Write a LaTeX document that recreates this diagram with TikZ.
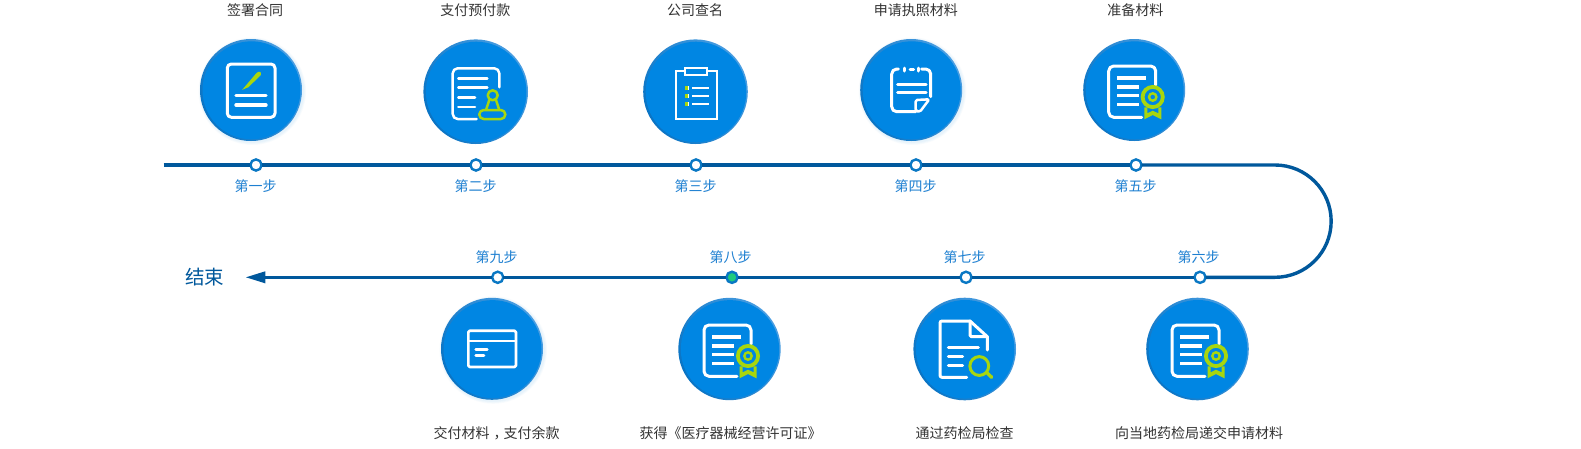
\documentclass[tikz,border=0pt]{standalone}
\usepackage{fontspec}
\setmainfont{Noto Sans CJK SC}
\usetikzlibrary{arrows.meta}
\definecolor{discblue}{HTML}{0086E3}
\definecolor{ringlight}{HTML}{4A9EE2}
\definecolor{ringdark}{HTML}{0A74C4}
\definecolor{linkblue}{HTML}{00589C}
\definecolor{dotblue}{HTML}{0A78C4}
\definecolor{stepblue}{HTML}{1D7FD1}
\definecolor{titlegrey}{HTML}{333333}
\definecolor{leaf}{HTML}{A8D60E}
\definecolor{dotgreen}{HTML}{1FCB7E}
\tikzset{
  x=1pt,y=-1pt,
  mainline/.style={draw=linkblue,line width=3.4pt},
  stepdot/.style={circle,draw=dotblue,line width=2.4pt,fill=white,minimum size=11.2pt,inner sep=0pt,outer sep=0pt},
  steplabel/.style={text=stepblue,font=\fontsize{14}{16}\selectfont,inner sep=0pt},
  titlelabel/.style={text=titlegrey,font=\fontsize{14}{16}\selectfont,inner sep=0pt},
  discnode/.style={circle,inner sep=0pt,outer sep=0pt,left color=ringlight,right color=ringdark,shading angle=-60},
  ico/.style={draw=white,line width=3pt,line cap=round,line join=round},
  icothin/.style={draw=white,line width=2.5pt,line cap=round,line join=round},
  icogreen/.style={draw=leaf,line width=2.5pt,line join=round},
}
% disc: name, x, y, radius
\newcommand{\stepdisc}[4]{%
  \node[discnode,minimum size=#4*2pt] (#1) at (#2,#3) {};
  \fill[discblue] (#1.center) ++(0.5,0.3) circle[radius=#4-2];
}
\newcommand{\softglow}[3]{%
  \foreach \g in {1,2,3,4}{\fill[discblue,opacity=0.025] (#1+1.2,#2+1.2) circle[radius=#3+\g*0.7];}
}
\newcommand{\iconsign}[1]{\begin{scope}[shift={(#1.center)}]
  \draw[ico,rounded corners=4pt] (-23.7,-26) rectangle (24,27.3);
  \fill[leaf] (-8.8,-0.2) -- (5.5,-17) .. controls (8,-19.4) and (11,-18.4) .. (9.8,-15) -- (-2.5,-2.8) -- cycle;
  \draw[ico,line width=3.4pt] (-15,5.7) -- (15,5.7);
  \draw[ico,line width=3.4pt] (-15,15) -- (15,15);
\end{scope}}
\newcommand{\iconstamp}[1]{\begin{scope}[shift={(#1.center)}]
  \draw[icothin,rounded corners=5pt] (23.6,-4.4) -- (23.6,-23.4) -- (-23,-23.4) -- (-23,27.3) -- (1,27.3);
  \draw[icothin] (-17.4,-13) -- (11.6,-13);
  \draw[icothin] (-17.4,-4) -- (11.6,-4);
  \draw[icothin] (-17.4,6) -- (-0.7,6);
  \draw[icothin] (-17.4,15.3) -- (-0.7,15.3);
  \draw[icogreen] (17,3.6) circle[radius=5];
  \draw[icogreen] (13.6,8.3) -- (10.3,18.3);
  \draw[icogreen] (20.3,8.3) -- (23.6,18.3);
  \draw[icogreen,rounded corners=4.4pt] (3.6,18.3) rectangle (29.6,27.3);
\end{scope}}
\newcommand{\iconboard}[1]{\begin{scope}[shift={(#1.center)}]
  \draw[white,line width=1.9pt] (-19.8,-20.7) rectangle (21.2,27.6);
  \draw[white,line width=1.9pt,fill=discblue] (-10.2,-23.4) rectangle (11.2,-16.7);
  \foreach \yy in {-3.4,4.3,12}{
    \draw[white,line width=2pt] (-3.2,\yy) -- (13.5,\yy);
    \fill[leaf] (-10.2,\yy-1.9) rectangle (-6.5,\yy+1.9);
    \fill[white] (-7.6,\yy-1.9) rectangle (-6.5,\yy+1.9);
  }
\end{scope}}
\newcommand{\iconnote}[1]{\begin{scope}[shift={(#1.center)}]
  \draw[ico,rounded corners=5pt] (-12.9,-21) -- (-19.5,-21) -- (-19.5,21.7) -- (4.5,21.7);
  \draw[ico,rounded corners=5pt] (10.5,-21) -- (19.5,-21) -- (19.5,6.7);
  \draw[ico] (-1.2,-21) -- (2.5,-21);
  \draw[ico] (-6.9,-22) -- (-6.9,-19);
  \draw[ico] (7.1,-22) -- (7.1,-19);
  \draw[ico] (-13.5,-6) -- (14.8,-6);
  \draw[ico] (-13.5,2.3) -- (14.8,2.3);
  \draw[icothin,rounded corners=1.5pt] (4.5,21) -- (4.5,10) -- (18.1,9.3) -- (8.8,21.7) -- cycle;
\end{scope}}
\newcommand{\iconmedal}[1]{\begin{scope}[shift={(#1.center)}]
  \draw[ico,rounded corners=5pt] (21.5,-5) -- (21.5,-24) -- (-25.5,-24) -- (-25.5,27.3) -- (7.5,27.3);
  \draw[ico,line cap=butt,line width=3.5pt] (-17.2,-12) -- (11.8,-12);
  \draw[ico,line cap=butt,line width=3.5pt] (-17.2,-3) -- (4.5,-3);
  \draw[ico,line cap=butt,line width=3.5pt] (-17.2,5.7) -- (4.5,5.7);
  \draw[ico,line cap=butt,line width=3.5pt] (-17.2,14.7) -- (4.5,14.7);
  \fill[leaf] (10.1,17.3) -- (10.1,29.3) -- (18.5,25) -- (27.1,29.3) -- (27.1,17.3) -- (24.1,17.3) -- (24.1,23.3) -- (18.5,20.7) -- (13.1,23.3) -- (13.1,17.3) -- cycle;
  \draw[leaf,line width=3.8pt,fill=discblue] (18.5,7) circle[radius=10.1];
  \draw[leaf,line width=2.4pt] (18.5,7) circle[radius=3.7];
\end{scope}}
\newcommand{\iconlens}[1]{\begin{scope}[shift={(#1.center)}]
  \draw[ico,rounded corners=2pt] (2,28.3) -- (-24.7,28.3) -- (-24.7,-28) -- (5.3,-28);
  \draw[ico,rounded corners=1.5pt] (5.3,-28) -- (5.3,-12.3) -- (22.6,-12.3);
  \draw[ico] (5.3,-28) -- (22.6,-12.3) -- (22.6,1);
  \draw[ico] (-16.4,-1.3) -- (13.6,-1.3);
  \draw[ico] (-16.4,7.7) -- (-2,7.7);
  \draw[ico] (-16.4,16.7) -- (-2,16.7);
  \draw[leaf,line width=3pt] (14.6,17) circle[radius=9.4];
  \draw[leaf,line width=3.4pt,line cap=round] (21.6,23.2) -- (27,28.3);
\end{scope}}
\newcommand{\iconcard}[1]{\begin{scope}[shift={(#1.center)}]
  \draw[icothin,line width=2.6pt,rounded corners=1.5pt] (-23.7,-18.1) rectangle (24,18.2);
  \draw[icothin,line width=2.6pt] (-23.7,-7.8) -- (24,-7.8);
  \draw[icothin] (-16.3,0.9) -- (-4.7,0.9);
  \draw[icothin] (-16.3,6.9) -- (-8,6.9);
\end{scope}}
\begin{document}
\begin{tikzpicture}
\useasboundingbox (0,0) rectangle (1581,448);
\fill[white] (0,0) rectangle (1581,448);
% soft glow
\softglow{251}{90}{51}
\softglow{911.2}{90}{51}
\softglow{492}{348.8}{51}
% discs
\stepdisc{c1}{251}{90}{51}
\stepdisc{c2}{475.7}{91.7}{52.3}
\stepdisc{c3}{695.5}{91.7}{52.3}
\stepdisc{c4}{911.2}{90}{51}
\stepdisc{c5}{1134.2}{90}{51}
\stepdisc{c6}{1197.5}{349}{51.3}
\stepdisc{c7}{964.7}{349}{51.3}
\stepdisc{c8}{729.5}{349}{51.2}
\stepdisc{c9}{492}{348.8}{51}
\iconsign{c1}
\iconstamp{c2}
\iconboard{c3}
\iconnote{c4}
\iconmedal{c5}
\iconmedal{c6}
\iconlens{c7}
\iconmedal{c8}
\iconcard{c9}
% step dots
\node[stepdot] (n1) at (256,165) {};
\node[stepdot] (n2) at (476,165) {};
\node[stepdot] (n3) at (696,165) {};
\node[stepdot] (n4) at (916,165) {};
\node[stepdot] (n5) at (1136,165) {};
\node[stepdot] (n6) at (1200,277.3) {};
\node[stepdot] (n7) at (966,277.3) {};
\node[stepdot,fill=dotgreen] (n8) at (732,277.3) {};
\node[stepdot] (n9) at (497.7,277.3) {};
\node[text=linkblue,font=\fontsize{19.5}{22}\selectfont,inner sep=0pt,outer sep=0pt,minimum width=81.6pt] (fin) at (204.5,277.3) {结束};
\coordinate (start) at (163.5,165);
\coordinate (turnA) at (1275,165);
\coordinate (turnB) at (1275,277.3);
% connectors
\draw[mainline] (start) -- (n1);
\draw[mainline] (n1) -- (n2);
\draw[mainline] (n2) -- (n3);
\draw[mainline] (n3) -- (n4);
\draw[mainline] (n4) -- (n5);
\draw[mainline] (n5) -- (turnA) arc[start angle=-90,end angle=90,radius=56.15] -- (n6);
\draw[mainline] (n6) -- (n7);
\draw[mainline] (n7) -- (n8);
\draw[mainline] (n8) -- (n9);
\draw[mainline,-{Triangle[length=20pt,width=11pt]}] (n9) -- (fin);
% labels
\node[titlelabel] (t1) at (255,10.5) {签署合同};
\node[titlelabel] (t2) at (475.3,10.5) {支付预付款};
\node[titlelabel] (t3) at (695,10.5) {公司查名};
\node[titlelabel] (t4) at (915.8,10.5) {申请执照材料};
\node[titlelabel] (t5) at (1135.3,10.5) {准备材料};
\node[steplabel] (s1) at (255.7,186) {第一步};
\node[steplabel] (s2) at (475.7,186) {第二步};
\node[steplabel] (s3) at (695.7,186) {第三步};
\node[steplabel] (s4) at (915.7,186) {第四步};
\node[steplabel] (s5) at (1135.7,186) {第五步};
\node[steplabel] (s6) at (1198.7,257.3) {第六步};
\node[steplabel] (s7) at (964.7,257.3) {第七步};
\node[steplabel] (s8) at (730.7,257.3) {第八步};
\node[steplabel] (s9) at (496.7,257.3) {第九步};
\node[titlelabel] (t6) at (1199,433.3) {向当地药检局递交申请材料};
\node[titlelabel] (t7) at (964.7,433.3) {通过药检局检查};
\node[titlelabel] (t8) at (730.5,433.3) {获得《医疗器械经营许可证》};
\node[titlelabel] (t9) at (496.7,433.3) {交付材料\kern4pt ，\kern-4pt 支付余款};
\end{tikzpicture}
\end{document}
